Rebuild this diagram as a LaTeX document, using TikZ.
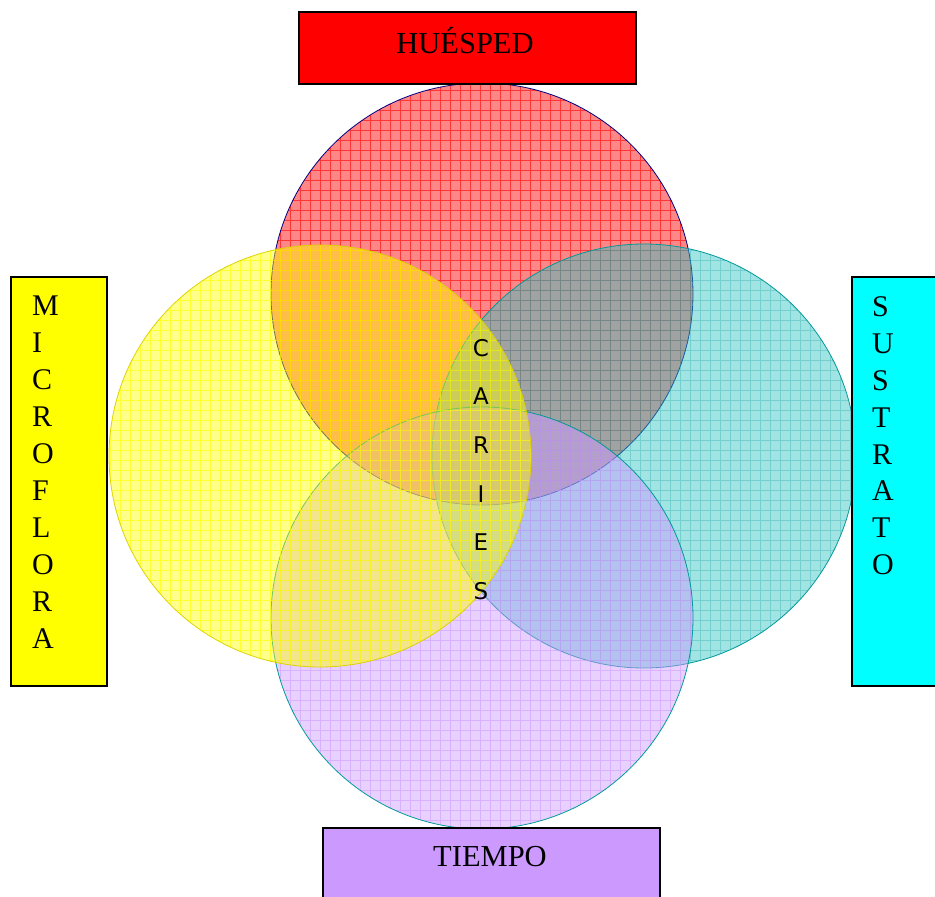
\documentclass[tikz,border=0pt]{standalone}
\usepackage{fontspec}
\setmainfont{Liberation Serif}
\newfontfamily\cariesfont{DejaVu Sans}
\begin{document}
\begin{tikzpicture}[x=1pt,y=-1pt,
  labelbox/.style={draw=black,line width=1.6pt,inner sep=0pt,anchor=north west},
  boxtext/.style={font=\fontsize{30.5}{36}\selectfont,inner sep=0pt},
  vletter/.style={font=\fontsize{30}{36}\selectfont,inner sep=0pt,anchor=west},
  cletter/.style={font=\cariesfont\fontsize{23}{28}\selectfont,inner sep=0pt}]
\useasboundingbox (0,0) rectangle (935,897);
\definecolor{hred}{HTML}{FF0000}
\definecolor{myel}{HTML}{FFFF00}
\definecolor{scyan}{HTML}{2EC4C4}
\definecolor{tpurp}{HTML}{CC99FF}
\definecolor{boxcyan}{HTML}{00FFFF}

\coordinate (cr) at (482,294);
\coordinate (cc) at (644,456);
\coordinate (cp) at (482,618);
\coordinate (cy) at (320,456);

% red circle
\begin{scope}
  \clip (cr) circle (211);
  \fill[hred,fill opacity=0.47] (cr) circle (211);
  \draw[hred,line width=0.6pt,opacity=0.6,step=10pt] (260,70) grid (700,520);
\end{scope}
\draw[draw=blue!50!black,line width=0.8pt] (cr) circle (211);

% cyan circle
\begin{scope}
  \clip (cc) circle (212);
  \fill[scyan,fill opacity=0.45] (cc) circle (212);
  \draw[scyan!85!black,line width=0.6pt,opacity=0.35,step=10pt] (420,230) grid (870,680);
\end{scope}
\draw[draw=teal!80!cyan,line width=0.8pt] (cc) circle (212);

% purple circle
\begin{scope}
  \clip (cp) circle (211);
  \fill[tpurp,fill opacity=0.45] (cp) circle (211);
  \draw[tpurp,line width=0.6pt,opacity=0.55,step=10pt] (260,400) grid (700,840);
\end{scope}
\draw[draw=teal!80!cyan,line width=0.8pt] (cp) circle (211);

% yellow circle
\begin{scope}
  \clip (cy) circle (211);
  \fill[myel,fill opacity=0.45] (cy) circle (211);
  \draw[myel,line width=0.6pt,opacity=0.65,step=10pt] (100,240) grid (540,680);
\end{scope}
\draw[draw=yellow!70!olive,line width=0.8pt] (cy) circle (211);

% label boxes
\node[labelbox,fill=hred,minimum width=337,minimum height=72] (hue) at (298,11) {};
\node[boxtext] (hueT) at (465,41) {HUÉSPED};

\node[labelbox,fill=myel,minimum width=96,minimum height=409] (mic) at (10,276) {};
\foreach \l [count=\i] in {M,I,C,R,O,F,L,O,R,A}
  \node[vletter] (m\i) at (32,{306+37*(\i-1)}) {\l};

\node[labelbox,fill=boxcyan,minimum width=100,minimum height=409] (sus) at (851,276) {};
\foreach \l [count=\i] in {S,U,S,T,R,A,T,O}
  \node[vletter] (s\i) at (872,{307+36.8*(\i-1)}) {\l};

\node[labelbox,fill=tpurp,minimum width=337,minimum height=90] (tie) at (322,827) {};
\node[boxtext] (tieT) at (490,857) {TIEMPO};

\foreach \l [count=\i] in {C,A,R,I,E,S}
  \node[cletter] (c\i) at (481,{348+48.6*(\i-1)}) {\l};
\end{tikzpicture}
\end{document}
